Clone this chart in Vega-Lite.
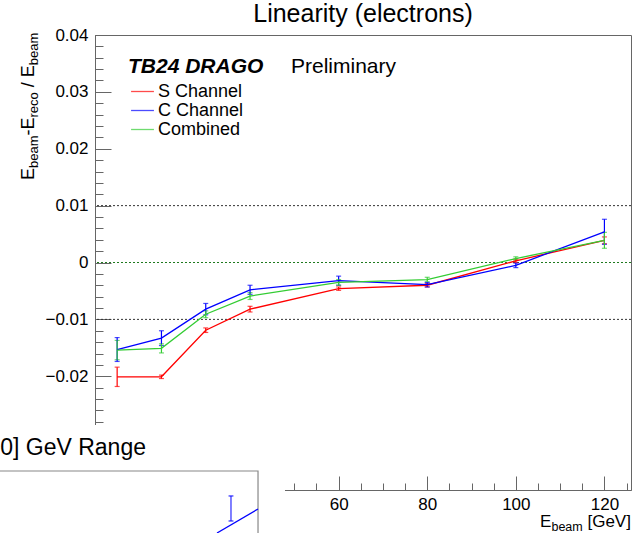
{
  "$schema": "https://vega.github.io/schema/vega-lite/v6.json",
  "width": 536,
  "height": 455,
  "autosize": {"type": "none"},
  "padding": {"left": 95, "top": 35, "right": 3, "bottom": 43},
  "background": "white",
  "config": {
    "font": "Liberation Sans",
    "view": {"stroke": "#666", "strokeWidth": 1},
    "axis": {"grid": false, "labelFont": "Liberation Sans", "labelFontSize": 17, "labelColor": "black", "tickColor": "#666", "domainColor": "#666", "labelFlush": false, "labelOverlap": false, "tickWidth": 1, "domainWidth": 1}
  },
  "data": {"values": [{}]},
  "datasets": {
    "lin": [
      {"E": 10, "ch": "S Channel", "v": -0.0201, "lo": -0.0218, "hi": -0.0184},
      {"E": 20, "ch": "S Channel", "v": -0.0201, "lo": -0.0204, "hi": -0.0198},
      {"E": 30, "ch": "S Channel", "v": -0.0119, "lo": -0.0123, "hi": -0.0115},
      {"E": 40, "ch": "S Channel", "v": -0.0082, "lo": -0.0087, "hi": -0.0077},
      {"E": 60, "ch": "S Channel", "v": -0.0046, "lo": -0.0049, "hi": -0.0043},
      {"E": 80, "ch": "S Channel", "v": -0.0040, "lo": -0.0043, "hi": -0.0037},
      {"E": 100, "ch": "S Channel", "v": 0.0003, "lo": 0.0000, "hi": 0.0006},
      {"E": 120, "ch": "S Channel", "v": 0.0039, "lo": 0.0033, "hi": 0.0045},
      {"E": 10, "ch": "C Channel", "v": -0.0153, "lo": -0.0174, "hi": -0.0132},
      {"E": 20, "ch": "C Channel", "v": -0.0133, "lo": -0.0146, "hi": -0.0120},
      {"E": 30, "ch": "C Channel", "v": -0.0082, "lo": -0.0092, "hi": -0.0072},
      {"E": 40, "ch": "C Channel", "v": -0.0048, "lo": -0.0056, "hi": -0.0040},
      {"E": 60, "ch": "C Channel", "v": -0.0032, "lo": -0.0040, "hi": -0.0024},
      {"E": 80, "ch": "C Channel", "v": -0.0039, "lo": -0.0043, "hi": -0.0035},
      {"E": 100, "ch": "C Channel", "v": -0.0005, "lo": -0.0009, "hi": -0.0001},
      {"E": 120, "ch": "C Channel", "v": 0.0054, "lo": 0.0032, "hi": 0.0076},
      {"E": 10, "ch": "Combined", "v": -0.0154, "lo": -0.0171, "hi": -0.0137},
      {"E": 20, "ch": "Combined", "v": -0.0151, "lo": -0.0159, "hi": -0.0143},
      {"E": 30, "ch": "Combined", "v": -0.0091, "lo": -0.0097, "hi": -0.0085},
      {"E": 40, "ch": "Combined", "v": -0.0059, "lo": -0.0065, "hi": -0.0053},
      {"E": 60, "ch": "Combined", "v": -0.0035, "lo": -0.0040, "hi": -0.0030},
      {"E": 80, "ch": "Combined", "v": -0.0030, "lo": -0.0034, "hi": -0.0026},
      {"E": 100, "ch": "Combined", "v": 0.0007, "lo": 0.0004, "hi": 0.0010},
      {"E": 120, "ch": "Combined", "v": 0.0039, "lo": 0.0025, "hi": 0.0053}
    ]
  },
  "resolve": {"axis": {"x": "independent", "y": "independent"}},
  "layer": [
    {
      "data": {"values": [{"level": 0.01}, {"level": -0.01}]},
      "mark": {"type": "rule", "color": "#333", "strokeDash": [2, 2], "strokeWidth": 1},
      "encoding": {"y": {"field": "level", "type": "quantitative", "axis": null}}
    },
    {
      "data": {"values": [{"level": 0}]},
      "mark": {"type": "rule", "color": "#1f7a1f", "strokeDash": [2, 2], "strokeWidth": 1},
      "encoding": {"y": {"field": "level", "type": "quantitative", "axis": null}}
    },
    {
      "data": {"name": "lin"},
      "mark": {"type": "errorbar", "ticks": {"size": 5}, "thickness": 1.2},
      "encoding": {
        "x": {"field": "E", "type": "quantitative", "scale": {"domain": [5, 126], "nice": false, "zero": false},
              "axis": {"orient": "bottom", "title": null, "labels": false, "domain": false, "tickSize": -7,
                       "values": [10, 15, 20, 25, 30, 35, 40, 45, 50, 55, 60, 65, 70, 75, 80, 85, 90, 95, 100, 105, 110, 115, 120, 125]}},
        "y": {"field": "lo", "type": "quantitative", "scale": {"domain": [-0.04, 0.04], "nice": false, "zero": false},
              "axis": {"orient": "left", "title": null, "labels": false, "domain": false, "tickSize": -8,
                       "values": [-0.04, -0.038, -0.036, -0.034, -0.032, -0.03, -0.028, -0.026, -0.024, -0.022, -0.02, -0.018, -0.016, -0.014, -0.012, -0.01, -0.008, -0.006, -0.004, -0.002, 0, 0.002, 0.004, 0.006, 0.008, 0.01, 0.012, 0.014, 0.016, 0.018, 0.02, 0.022, 0.024, 0.026, 0.028, 0.03, 0.032, 0.034, 0.036, 0.038, 0.04]}},
        "y2": {"field": "hi"},
        "color": {"field": "ch", "type": "nominal"}
      }
    },
    {
      "data": {"name": "lin"},
      "mark": {"type": "line", "strokeWidth": 1.3},
      "encoding": {
        "x": {"field": "E", "type": "quantitative",
              "axis": {"orient": "bottom", "title": null, "values": [60, 80, 100, 120], "tickSize": -14, "labelPadding": 20}},
        "y": {"field": "v", "type": "quantitative",
              "axis": {"orient": "left", "title": null, "values": [-0.02, -0.01, 0, 0.01, 0.02, 0.03, 0.04], "format": ".2~f", "tickSize": -16, "labelPadding": 23}},
        "color": {"field": "ch", "type": "nominal",
                  "scale": {"domain": ["S Channel", "C Channel", "Combined"], "range": ["#ff0000", "#0000ff", "#33cc33"]},
                  "legend": {"orient": "none", "legendX": 38, "legendY": 47, "title": null, "symbolType": "M-1.32,0H1.32", "symbolSize": 300, "symbolStrokeWidth": 1.3, "labelFontSize": 18, "labelFont": "Liberation Sans", "labelColor": "black", "labelOffset": 6, "rowPadding": -0.5, "padding": 0}}
      }
    },
    {
      "mark": {"type": "text", "text": "Linearity (electrons)", "align": "center", "baseline": "alphabetic", "fontSize": 25, "color": "black"},
      "encoding": {"x": {"datum": 65.5, "type": "quantitative", "axis": null}, "y": {"datum": 0.0422, "type": "quantitative", "axis": null}}
    },
    {
      "mark": {"type": "text", "text": "TB24 DRAGO", "align": "left", "baseline": "alphabetic", "fontSize": 21, "fontStyle": "italic", "fontWeight": "bold", "color": "black"},
      "encoding": {"x": {"datum": 12.45, "type": "quantitative", "axis": null}, "y": {"datum": 0.0333, "type": "quantitative", "axis": null}}
    },
    {
      "mark": {"type": "text", "text": "Preliminary", "align": "left", "baseline": "alphabetic", "fontSize": 21, "color": "black"},
      "encoding": {"x": {"datum": 49.25, "type": "quantitative", "axis": null}, "y": {"datum": 0.0333, "type": "quantitative", "axis": null}}
    },
    {
      "mark": {"type": "text", "text": "E", "angle": 270, "align": "left", "baseline": "alphabetic", "fontSize": 18, "color": "black"},
      "encoding": {"x": {"datum": -8.77, "type": "quantitative", "axis": null}, "y": {"datum": 0.01451, "type": "quantitative", "axis": null}}
    },
    {
      "mark": {"type": "text", "text": "beam", "angle": 270, "align": "left", "baseline": "alphabetic", "fontSize": 13, "dx": 12, "dy": 4, "color": "black"},
      "encoding": {"x": {"datum": -8.77, "type": "quantitative", "axis": null}, "y": {"datum": 0.01451, "type": "quantitative", "axis": null}}
    },
    {
      "mark": {"type": "text", "text": "-E", "angle": 270, "align": "left", "baseline": "alphabetic", "fontSize": 18, "dx": 44.5, "color": "black"},
      "encoding": {"x": {"datum": -8.77, "type": "quantitative", "axis": null}, "y": {"datum": 0.01451, "type": "quantitative", "axis": null}}
    },
    {
      "mark": {"type": "text", "text": "reco", "angle": 270, "align": "left", "baseline": "alphabetic", "fontSize": 13, "dx": 62.5, "dy": 4, "color": "black"},
      "encoding": {"x": {"datum": -8.77, "type": "quantitative", "axis": null}, "y": {"datum": 0.01451, "type": "quantitative", "axis": null}}
    },
    {
      "mark": {"type": "text", "text": "/ E", "angle": 270, "align": "left", "baseline": "alphabetic", "fontSize": 18, "dx": 92.8, "color": "black"},
      "encoding": {"x": {"datum": -8.77, "type": "quantitative", "axis": null}, "y": {"datum": 0.01451, "type": "quantitative", "axis": null}}
    },
    {
      "mark": {"type": "text", "text": "beam", "angle": 270, "align": "left", "baseline": "alphabetic", "fontSize": 13, "dx": 114.8, "dy": 4, "color": "black"},
      "encoding": {"x": {"datum": -8.77, "type": "quantitative", "axis": null}, "y": {"datum": 0.01451, "type": "quantitative", "axis": null}}
    },
    {
      "mark": {"type": "text", "text": "E", "align": "left", "baseline": "alphabetic", "fontSize": 17, "color": "black"},
      "encoding": {"x": {"datum": 105.45, "type": "quantitative", "axis": null}, "y": {"datum": -0.04651, "type": "quantitative", "axis": null}}
    },
    {
      "mark": {"type": "text", "text": "beam", "align": "left", "baseline": "alphabetic", "fontSize": 12.5, "dx": 11.5, "dy": 3.5, "color": "black"},
      "encoding": {"x": {"datum": 105.45, "type": "quantitative", "axis": null}, "y": {"datum": -0.04651, "type": "quantitative", "axis": null}}
    },
    {
      "mark": {"type": "text", "text": "[GeV]", "align": "left", "baseline": "alphabetic", "fontSize": 17, "dx": 47.5, "color": "black"},
      "encoding": {"x": {"datum": 105.45, "type": "quantitative", "axis": null}, "y": {"datum": -0.04651, "type": "quantitative", "axis": null}}
    },
    {
      "mark": {"type": "rect", "fill": "white", "stroke": null},
      "encoding": {"x": {"datum": -21.7, "type": "quantitative", "axis": null}, "x2": {"datum": 47.89}, "y": {"datum": -0.02857, "type": "quantitative", "axis": null}, "y2": {"datum": -0.04967}}
    },
    {
      "mark": {"type": "rect", "fill": null, "fillOpacity": 0, "stroke": "#888", "strokeWidth": 1.2},
      "encoding": {"x": {"datum": -21.7, "type": "quantitative", "axis": null}, "x2": {"datum": 41.8}, "y": {"datum": -0.03666, "type": "quantitative", "axis": null}, "y2": {"datum": -0.04967}}
    },
    {
      "mark": {"type": "text", "text": "0] GeV Range", "align": "right", "baseline": "alphabetic", "fontSize": 23, "color": "black"},
      "encoding": {"x": {"datum": 16.51, "type": "quantitative", "axis": null}, "y": {"datum": -0.03385, "type": "quantitative", "axis": null}}
    },
    {
      "mark": {"type": "rule", "color": "#0000ff", "strokeWidth": 1},
      "encoding": {"x": {"datum": 35.7, "type": "quantitative", "axis": null}, "y": {"datum": -0.04105, "type": "quantitative", "axis": null}, "y2": {"datum": -0.04545}}
    },
    {
      "mark": {"type": "rule", "color": "#0000ff", "strokeWidth": 1},
      "encoding": {"x": {"datum": 35.15, "type": "quantitative", "axis": null}, "x2": {"datum": 36.25}, "y": {"datum": -0.04105, "type": "quantitative", "axis": null}}
    },
    {
      "mark": {"type": "rule", "color": "#0000ff", "strokeWidth": 1},
      "encoding": {"x": {"datum": 35.15, "type": "quantitative", "axis": null}, "x2": {"datum": 36.25}, "y": {"datum": -0.04545, "type": "quantitative", "axis": null}}
    },
    {
      "mark": {"type": "rule", "color": "#0000ff", "strokeWidth": 1.3},
      "encoding": {"x": {"datum": 32.54, "type": "quantitative", "axis": null}, "x2": {"datum": 41.8}, "y": {"datum": -0.04756, "type": "quantitative", "axis": null}, "y2": {"datum": -0.04334}}
    }
  ]
}
